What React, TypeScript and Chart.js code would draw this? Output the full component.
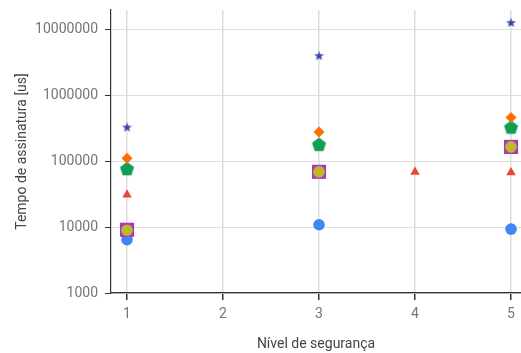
import React, { useEffect, useRef } from "react";
import { Chart, registerables } from "chart.js";

Chart.register(...registerables);

const xTicks = [1, 2, 3, 4, 5];
const yTicks = [1000, 10000, 100000, 1000000, 10000000];

const levels = [1, 3, 5];
const starVals = [332000, 4050000, 12900000];
const diamondVals = [112000, 279000, 465000];
const pentagonVals = [77800, 182000, 332000];
const triangleLevels = [1, 4, 5];
const triangleVals = [31200, 69000, 68000];
const yellowVals = [9000, 69500, 166000];
const squareVals = [9140, 69500, 166000];
const blueVals = [6460, 10900, 9340];

function makeStar(color: string, r: number) {
  const size = Math.ceil(r * 2 + 2);
  const c = document.createElement("canvas");
  c.width = size;
  c.height = size;
  const ctx = c.getContext("2d")!;
  const cx = size / 2;
  const cy = size / 2 + r * 0.08;
  ctx.beginPath();
  for (let i = 0; i < 10; i++) {
    const rad = i % 2 === 0 ? r : r * 0.42;
    const a = -Math.PI / 2 + (i * Math.PI) / 5;
    const px = cx + rad * Math.cos(a);
    const py = cy + rad * Math.sin(a);
    if (i === 0) ctx.moveTo(px, py);
    else ctx.lineTo(px, py);
  }
  ctx.closePath();
  ctx.fillStyle = color;
  ctx.fill();
  return c;
}

function makePentagon(color: string, r: number) {
  const size = Math.ceil(r * 2 + 2);
  const c = document.createElement("canvas");
  c.width = size;
  c.height = size;
  const ctx = c.getContext("2d")!;
  const cx = size / 2;
  const cy = size / 2 + r * 0.1;
  ctx.beginPath();
  for (let i = 0; i < 5; i++) {
    const a = -Math.PI / 2 + (i * 2 * Math.PI) / 5;
    const px = cx + r * Math.cos(a);
    const py = cy + r * Math.sin(a);
    if (i === 0) ctx.moveTo(px, py);
    else ctx.lineTo(px, py);
  }
  ctx.closePath();
  ctx.fillStyle = color;
  ctx.fill();
  return c;
}

function pts(xs: number[], ys: number[]) {
  return xs.map((x, i) => ({ x, y: ys[i] }));
}

export default function App() {
  const ref = useRef<HTMLCanvasElement>(null);
  useEffect(() => {
    if (!ref.current) return;
    const star = makeStar("#3949ab", 5.2);
    const pent = makePentagon("#0f9d58", 7.4);
    const mk = (data: any, style: any, color: string, radius: number) => ({
      data,
      pointStyle: style,
      backgroundColor: color,
      borderColor: color,
      borderWidth: 0,
      pointRadius: radius,
      pointHoverRadius: radius,
      showLine: false,
    });
    const chart = new Chart(ref.current, {
      type: "scatter",
      data: {
        datasets: [
          mk(pts(levels, starVals), star, "#3949ab", 6),
          mk(pts(levels, diamondVals), "rectRot", "#ff6d00", 5.5),
          mk(pts(levels, pentagonVals), pent, "#0f9d58", 7),
          mk(pts(triangleLevels, triangleVals), "triangle", "#e8473a", 5.5),
          mk(pts(levels, yellowVals), "circle", "#c2b72a", 5.8),
          mk(pts(levels, squareVals), "rect", "#a23bbf", 10),
          mk(pts(levels, blueVals), "circle", "#4285f4", 5.8),
        ],
      },
      options: {
        animation: false,
        responsive: false,
        layout: { autoPadding: false, padding: { top: 10, right: 0, left: 0, bottom: 0 } },
        plugins: { legend: { display: false }, tooltip: { enabled: false } },
        scales: {
          x: {
            type: "linear",
            min: 0.833,
            max: 5.104,
            afterBuildTicks: (s: any) => {
              s.ticks = xTicks.map((v) => ({ value: v }));
            },
            afterFit: (s: any) => {
              s.height = 60;
              s.paddingLeft = 0;
              s.paddingRight = 0;
              s.paddingTop = 0;
              s.paddingBottom = 0;
            },
            grid: { color: "#dedede", lineWidth: 1.5, tickColor: "#333", tickLength: 7 },
            border: { color: "#333", width: 1.2 },
            ticks: {
              color: "#757575",
              font: { family: "Roboto", size: 14 },
              padding: 6,
              maxRotation: 0,
            },
            title: {
              display: true,
              text: "Nível de segurança",
              color: "#444",
              font: { family: "Roboto", size: 14 },
              padding: { top: 0, bottom: 0 },
            },
          },
          y: {
            type: "logarithmic",
            min: 1000,
            max: 20000000,
            afterBuildTicks: (s: any) => {
              s.ticks = yTicks.map((v) => ({ value: v }));
            },
            afterFit: (s: any) => {
              s.width = 111;
              s.paddingLeft = 0;
              s.paddingRight = 0;
              s.paddingTop = 0;
              s.paddingBottom = 0;
            },
            grid: { color: "#dedede", lineWidth: 1, tickColor: "#333", tickLength: 6 },
            border: { color: "#333", width: 1.2 },
            ticks: {
              color: "#757575",
              font: { family: "Roboto", size: 14 },
              padding: 7,
              callback: (v: any) => String(v),
            },
            title: {
              display: true,
              text: "Tempo de assinatura [us]",
              color: "#444",
              font: { family: "Roboto", size: 14 },
              padding: { top: 14, bottom: 0 },
            },
          },
        },
      },
    });
    return () => chart.destroy();
  }, []);
  return (
    <div style={{ position: "fixed", left: 0, top: 0, width: 521, height: 353 }}>
      <canvas ref={ref} width={521} height={353} style={{ display: "block" }} />
    </div>
  );
}
